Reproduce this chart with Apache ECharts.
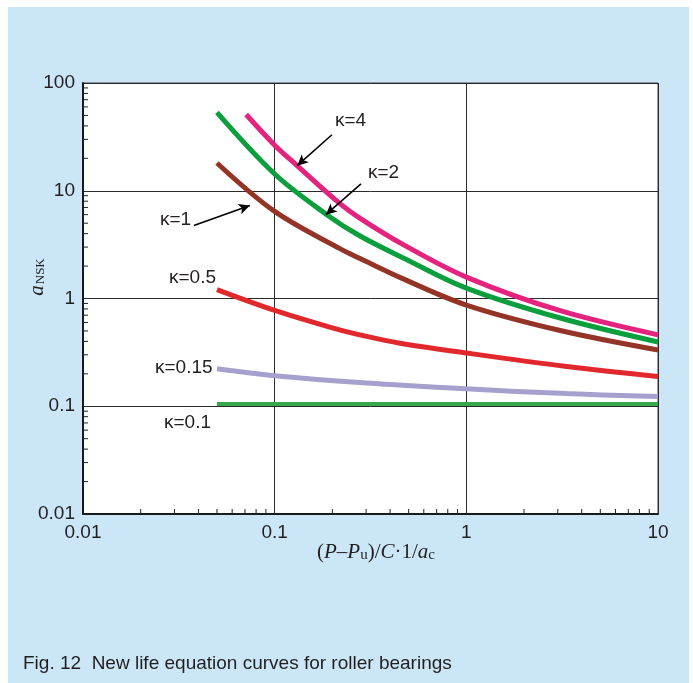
<!DOCTYPE html>
<html>
<head>
<meta charset="utf-8">
<script src="https://cdn.jsdelivr.net/npm/echarts@6/dist/echarts.min.js"></script>
<style>
  html, body { margin:0; padding:0; background:#ffffff; }
  #bg { position:absolute; left:8px; top:7px; width:681px; height:676px; background:#cbe6f7; }
  #chart { position:absolute; left:0; top:0; width:693px; height:683px; }
</style>
</head>
<body>
<div id="bg"></div>
<div id="chart"></div>
<script>
// ---- data ----
const k4x  = [0.071, 0.1, 0.13, 0.219, 0.279, 0.469, 1, 3.09, 10];
const k4y  = [51, 26.5, 17.3, 7.6, 5.55, 3.16, 1.58, 0.77, 0.46];
const k2x  = [0.05, 0.1, 0.187, 0.279, 0.469, 1, 3.09, 10];
const k2y  = [53.3, 14.3, 6.0, 3.8, 2.38, 1.25, 0.659, 0.395];
const k1x  = [0.05, 0.1, 0.219, 0.279, 0.469, 1, 3.09, 10];
const k1y  = [18.1, 6.43, 2.9, 2.35, 1.52, 0.87, 0.505, 0.333];
const k05x = [0.05, 0.1, 0.202, 0.302, 0.451, 1, 3.34, 10];
const k05y = [1.21, 0.776, 0.532, 0.445, 0.385, 0.312, 0.234, 0.189];
const k015x = [0.05, 0.1, 0.302, 1, 3.34, 10];
const k015y = [0.223, 0.192, 0.164, 0.145, 0.131, 0.123];
const k01x = [0.05, 10];
const k01y = [0.105, 0.105];

const xMinor = [0.02,0.03,0.04,0.05,0.06,0.07,0.08,0.09, 0.2,0.3,0.4,0.5,0.6,0.7,0.8,0.9, 2,3,4,5,6,7,8,9];
const yMinor = [0.02,0.03,0.04,0.05,0.06,0.07,0.08,0.09, 0.2,0.3,0.4,0.5,0.6,0.7,0.8,0.9, 2,3,4,5,6,7,8,9, 20,30,40,50,60,70,80,90];

const labels = [
  { text: 'κ=4',    x: 335, y: 122 },
  { text: 'κ=2',    x: 368, y: 174 },
  { text: 'κ=1',    x: 160, y: 221 },
  { text: 'κ=0.5',  x: 169, y: 279 },
  { text: 'κ=0.15', x: 155, y: 369 },
  { text: 'κ=0.1',  x: 164, y: 424 }
];
// arrows (data coordinates): [from, to]
const arrows = [
  [[0.199, 33.1], [0.131, 17.1]],
  [[0.282, 11.6], [0.185, 6.0]],
  [[0.0379, 4.77], [0.0742, 7.31]]
];

const zip = (a, b) => a.map((v, i) => [v, b[i]]);
const ink = '#231f20';
const sans = '"Liberation Sans", Arial, Helvetica, sans-serif';
const serif = '"Liberation Serif", "Times New Roman", serif';

function curve(name, xs, ys, color, width) {
  return {
    name, type: 'line', data: zip(xs, ys), showSymbol: false, smooth: 0.35,
    lineStyle: { color, width, cap: 'butt' }, itemStyle: { color },
    silent: true, z: 3
  };
}

const chart = echarts.init(document.getElementById('chart'), null, { renderer: 'canvas' });

const series = [
  curve('κ=0.1', k01x, k01y, '#36a84d', 4),
  curve('κ=0.15', k015x, k015y, '#a5a0cd', 5),
  curve('κ=0.5', k05x, k05y, '#e1282d', 5),
  curve('κ=1', k1x, k1y, '#943427', 5),
  curve('κ=2', k2x, k2y, '#0a9f3c', 5),
  curve('κ=4', k4x, k4y, '#e4237f', 5),
  {
    type: 'custom', silent: true, clip: false, z: 4,
    data: xMinor.map(v => [v, 0.01]),
    renderItem: (params, api) => {
      const p = api.coord([api.value(0), api.value(1)]);
      return { type: 'line', shape: { x1: p[0], y1: p[1], x2: p[0], y2: p[1] - 5 },
               style: { stroke: '#222', lineWidth: 1 } };
    }
  },
  {
    type: 'custom', silent: true, clip: false, z: 4,
    data: yMinor.map(v => [0.01, v]),
    renderItem: (params, api) => {
      const p = api.coord([api.value(0), api.value(1)]);
      return { type: 'line', shape: { x1: p[0], y1: p[1], x2: p[0] + 5, y2: p[1] },
               style: { stroke: '#222', lineWidth: 1 } };
    }
  },
  {
    type: 'line', data: [], silent: true, z: 5,
    markLine: {
      silent: true, animation: false,
      symbol: ['none', 'arrow'], symbolSize: [8, 11],
      lineStyle: { color: '#000', width: 1.6, type: 'solid' },
      label: { show: false },
      data: arrows.map(a => [{ coord: a[0] }, { coord: a[1] }])
    }
  }
];

const graphic = labels.map(l => ({
  type: 'text', left: l.x, top: l.y - 11, z: 10,
  style: { text: l.text, fill: ink, font: '19px ' + sans }
}));
graphic.push({
  type: 'text', z: 10, x: 376, y: 552,
  style: {
    text: '{n|(}{i|P}{n|–}{i|P}{s|u}{n|)/}{i|C}{n|·1/}{i|a}{s|c}',
    align: 'center', verticalAlign: 'middle',
    rich: {
      n: { fontFamily: serif, fontSize: 21, fill: ink },
      i: { fontFamily: serif, fontSize: 21, fontStyle: 'italic', fill: ink },
      s: { fontFamily: serif, fontSize: 15, fill: ink, padding: [7, 0, 0, 0] }
    }
  }
});
graphic.push({
  type: 'text', z: 10, x: 37, y: 277, rotation: Math.PI / 2,
  style: {
    text: '{i|a}{s|NSK}',
    align: 'center', verticalAlign: 'middle',
    rich: {
      i: { fontFamily: serif, fontSize: 21, fontStyle: 'italic', fill: ink },
      s: { fontFamily: serif, fontSize: 13, fill: ink, padding: [7, 0, 0, 1] }
    }
  }
});
graphic.push({
  type: 'text', z: 10, left: 23, top: 654,
  style: { text: 'Fig. 12  New life equation curves for roller bearings', fill: ink, font: '19px ' + sans }
});

chart.setOption({
  animation: false,
  grid: { left: 83, top: 83, width: 575, height: 431, show: true, backgroundColor: '#ffffff',
          borderColor: '#444', borderWidth: 1, containLabel: false },
  xAxis: {
    type: 'log', logBase: 10, min: 0.01, max: 10,
    axisLine: { show: true, onZero: false, lineStyle: { color: '#1b1b1b', width: 2 } },
    axisTick: { show: false },
    axisLabel: { color: ink, fontSize: 19, fontFamily: sans, margin: 9 },
    splitLine: { show: true, lineStyle: { color: '#2a2a2a', width: 1 } }
  },
  yAxis: {
    type: 'log', logBase: 10, min: 0.01, max: 100,
    axisLine: { show: true, onZero: false, lineStyle: { color: '#1b1b1b', width: 2 } },
    axisTick: { show: false },
    axisLabel: { color: ink, fontSize: 19, fontFamily: sans, margin: 8 },
    splitLine: { show: true, lineStyle: { color: '#2a2a2a', width: 1 } }
  },
  series,
  graphic
});
</script>
</body>
</html>
